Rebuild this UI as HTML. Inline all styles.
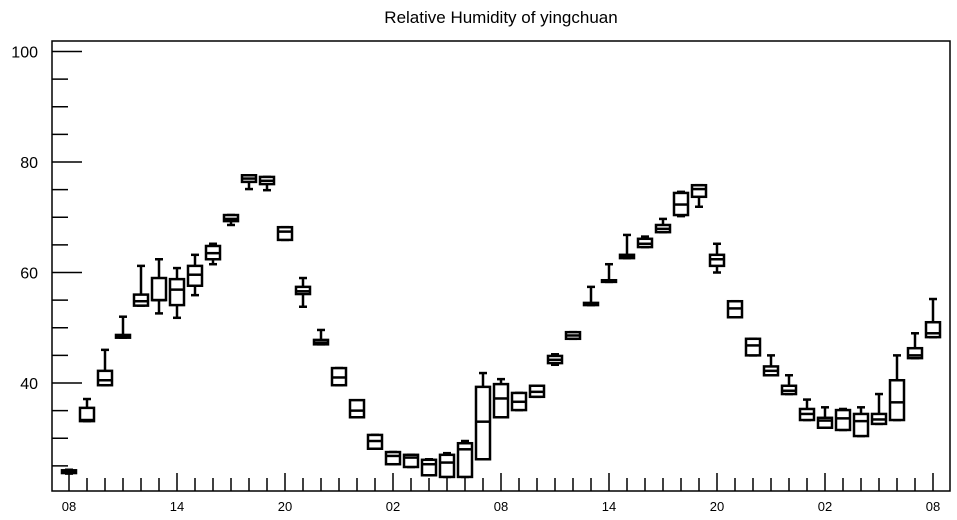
<!DOCTYPE html>
<html><head><meta charset="utf-8"><style>
html,body{margin:0;padding:0;background:#fff;}
svg{display:block;font-family:"Liberation Sans",sans-serif;}
</style></head><body>
<svg id="chart" width="957" height="520">
<text x="501" y="23" text-anchor="middle" font-size="17">Relative Humidity of yingchuan</text>
<g id="plot"></g>
</svg>
<script>
const hours=["08","09","10","11","12","13","14","15","16","17","18","19","20","21","22","23","00","01","02","03","04","05","06","07","08","09","10","11","12","13","14","15","16","17","18","19","20","21","22","23","00","01","02","03","04","05","06","07","08"];
const lo=[23.6,33.1,39.6,48.2,54,52.6,51.8,55.9,61.5,68.6,75.1,74.9,65.9,53.8,47,39.6,33.8,28.1,25.3,24.8,23.3,23,23,26.2,33.8,35.1,37.5,43.3,48,54.1,58.3,62.6,64.6,67.3,70.2,71.9,60,51.9,45,41.4,38,33.3,31.9,31.5,30.4,32.6,33.3,44.5,48.3];
const q1=[23.7,33.1,39.6,48.2,54,55,54.1,57.6,62.4,69.3,76.4,76,65.9,56.1,47,39.6,33.8,28.1,25.3,24.8,23.3,23,23,26.2,33.8,35.1,37.5,43.6,48,54.1,58.3,62.6,64.6,67.3,70.4,73.7,61.2,51.9,45,41.4,38,33.3,31.9,31.5,30.4,32.6,33.3,44.5,48.3];
const med=[24,33.3,40.5,48.5,54.8,55,56.9,59.6,63.5,69.7,77,76.6,67.4,56.6,47.3,41,35,29.5,26.8,26.5,25.3,25.6,28,33,37.2,36.6,38.4,44.2,48.6,54.3,58.5,62.9,65.2,67.9,72.3,75.1,62.4,53.5,46.8,42.2,38.6,34.4,33.2,33.6,33.1,33.4,36.5,45,49];
const q3=[24.2,35.5,42.2,48.7,56,59,58.8,61.2,64.8,70.4,77.6,77.3,68.2,57.4,47.8,42.7,36.9,30.6,27.5,27,26.1,27,29.1,39.3,39.8,38.2,39.5,44.9,49.2,54.5,58.6,63.2,66.1,68.6,74.4,75.8,63.2,54.8,48,43,39.5,35.3,33.7,35.1,34.4,34.4,40.5,46.3,51];
const hi=[24.3,37.1,46,52,61.2,62.4,60.8,63.2,65.2,70.4,77.6,77.3,68.2,59,49.6,42.7,36.4,30.6,27.5,27,26.2,27.3,29.5,41.8,40.7,38.2,39.5,45.2,49.2,57.4,61.5,66.8,66.5,69.7,74.6,75.8,65.2,54.8,48,45,41.4,37,35.6,35.3,35.6,38,45,49,55.2];
const yTicks=[40,60,80,100];
const NS="http://www.w3.org/2000/svg";
const L=52,R=950,T=41,B=491;
const yS=v=>383-(v-40)*5.525;
const xS=i=>69+18*i;
const g=document.getElementById('plot');
function mk(t,a){const e=document.createElementNS(NS,t);for(const k in a)e.setAttribute(k,a[k]);g.appendChild(e);return e;}
const fr=mk('rect',{x:L,y:T,width:R-L,height:B-T,fill:'none',stroke:'#000','stroke-width':1.5});


for(let v=25;v<=100;v+=5){
  const major=v%20===0;
  const t=mk('line',{x1:L,x2:L+(major?30:16),y1:yS(v),y2:yS(v),stroke:'#000','stroke-width':1.5});
  
  
}
yTicks.forEach(v=>{
  const t=mk('text',{x:L-14,y:yS(v)+6,'text-anchor':'end','font-size':16});
  t.textContent=v;
  
  
});
hours.forEach((h,i)=>{
  const lab=i%6===0;
  const t=mk('line',{x1:xS(i),x2:xS(i),y1:B,y2:B-(lab?18:13),stroke:'#000','stroke-width':1.5});
  
  
  if(lab){
    const tx=mk('text',{x:xS(i),y:511,'text-anchor':'middle','font-size':13});
    tx.textContent=h;
    
    
  }
});
hours.forEach((h,i)=>{
  const x=xS(i),w=14;
  const grp=document.createElementNS(NS,'g');g.appendChild(grp);
  
  
  const add=(t,a)=>{const e=document.createElementNS(NS,t);for(const k in a)e.setAttribute(k,a[k]);grp.appendChild(e);return e;};
  const st={stroke:'#000','stroke-width':2.5,fill:'none'};
  add('line',Object.assign({x1:x,x2:x,y1:yS(hi[i]),y2:yS(q3[i])},st));
  add('line',Object.assign({x1:x,x2:x,y1:yS(q1[i]),y2:yS(lo[i])},st));
  add('line',Object.assign({x1:x-4,x2:x+4,y1:yS(hi[i]),y2:yS(hi[i])},st));
  add('line',Object.assign({x1:x-4,x2:x+4,y1:yS(lo[i]),y2:yS(lo[i])},st));
  const h2=Math.max(yS(q1[i])-yS(q3[i]),1.5);
  add('rect',Object.assign({x:x-w/2,y:yS(q3[i]),width:w,height:h2,fill:'#fff'},{stroke:'#000','stroke-width':2.5}));
  add('line',Object.assign({x1:x-w/2,x2:x+w/2,y1:yS(med[i]),y2:yS(med[i])},st));
});
</script>
</body></html>
